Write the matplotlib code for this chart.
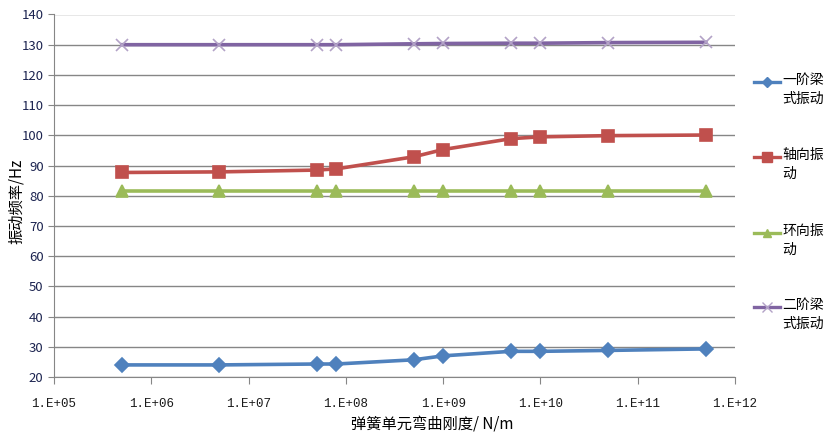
import matplotlib; matplotlib.use('Agg')
import matplotlib.pyplot as plt
from matplotlib.lines import Line2D

plt.rcParams['font.family'] = ['Noto Sans CJK SC', 'DejaVu Sans']

# stiffness (N/m) and frequencies (Hz)
stiff = [5e5, 5e6, 5e7, 8e7, 5e8, 1e9, 5e9, 1e10, 5e10, 5e11]
beam1 = [24.0, 24.0, 24.3, 24.3, 25.7, 27.0, 28.5, 28.5, 28.8, 29.3]
axial = [87.7, 87.9, 88.5, 88.9, 92.9, 95.3, 98.9, 99.5, 99.9, 100.1]
hoop  = [81.5, 81.5, 81.5, 81.5, 81.5, 81.5, 81.5, 81.5, 81.5, 81.5]
beam2 = [130.0, 130.0, 130.0, 130.0, 130.3, 130.4, 130.5, 130.5, 130.7, 130.8]
labels = ['一阶梁\n式振动', '轴向振\n动', '环向振\n动', '二阶梁\n式振动']
xticks = [1e5, 1e6, 1e7, 1e8, 1e9, 1e10, 1e11, 1e12]
xticklabels = ['1.E+05', '1.E+06', '1.E+07', '1.E+08', '1.E+09', '1.E+10', '1.E+11', '1.E+12']

styles = [('#4F81BD', 'D', 7, '#4F81BD'),
          ('#C0504D', 's', 9, '#C0504D'),
          ('#9BBB59', '^', 8, '#9BBB59'),
          ('#8064A2', 'x', 9, '#B3A2C7')]

fig = plt.figure(figsize=(8.24, 4.34), dpi=100)
ax = fig.add_axes([54/824, 1-377/434, (735-54)/824, (377-14.5)/434])

for ys, (c, m, ms, mc) in zip([beam1, axial, hoop, beam2], styles):
    ax.plot(stiff, ys, color=c, lw=2.6, marker=m, ms=ms, mfc=mc, mec=mc, mew=1.2, zorder=3)

ax.set_xscale('log')
ax.set_xlim(1e5, 1e12)
ax.set_ylim(20, 140)
ax.set_yticks(range(20, 141, 10))
ax.set_xticks(xticks)
ax.set_xticklabels(xticklabels, family=['Liberation Mono', 'DejaVu Sans Mono'], fontsize=9)
ax.minorticks_off()
ax.tick_params(axis='y', labelsize=9.5, length=4, color='#868686', labelcolor='#1c2450')
ax.tick_params(axis='x', length=5, color='#868686', labelcolor='#1a1a1a', pad=10)
ax.grid(True, axis='y', color='#868686', lw=1)
for s in ['top', 'right']:
    ax.spines[s].set_visible(False)
for s in ['left', 'bottom']:
    ax.spines[s].set_color('#868686')

ax.set_ylabel('振动频率/Hz', fontsize=11)
ax.yaxis.set_label_coords(-0.042, 0.485)
ax.set_xlabel('弹簧单元弯曲刚度/ N/m', fontsize=11)
ax.xaxis.set_label_coords(0.555, -0.11)

# legend on the right, marker aligned with first text line
ys_leg = [82, 157, 233, 307]
for yl, lab, (c, m, ms, mc) in zip(ys_leg, labels, styles):
    yf = 1 - yl/434
    fig.add_artist(Line2D([754/824, 780/824], [yf, yf], color=c, lw=2.4))
    fig.add_artist(Line2D([767/824], [yf], marker=m, ms=ms*0.8, color=mc, mfc=mc, mec=mc, lw=0))
    fig.text(782/824, yf + 9/434, lab, fontsize=10, va='top', ha='left', linespacing=1.45)

fig.savefig('out.png', dpi=100)
